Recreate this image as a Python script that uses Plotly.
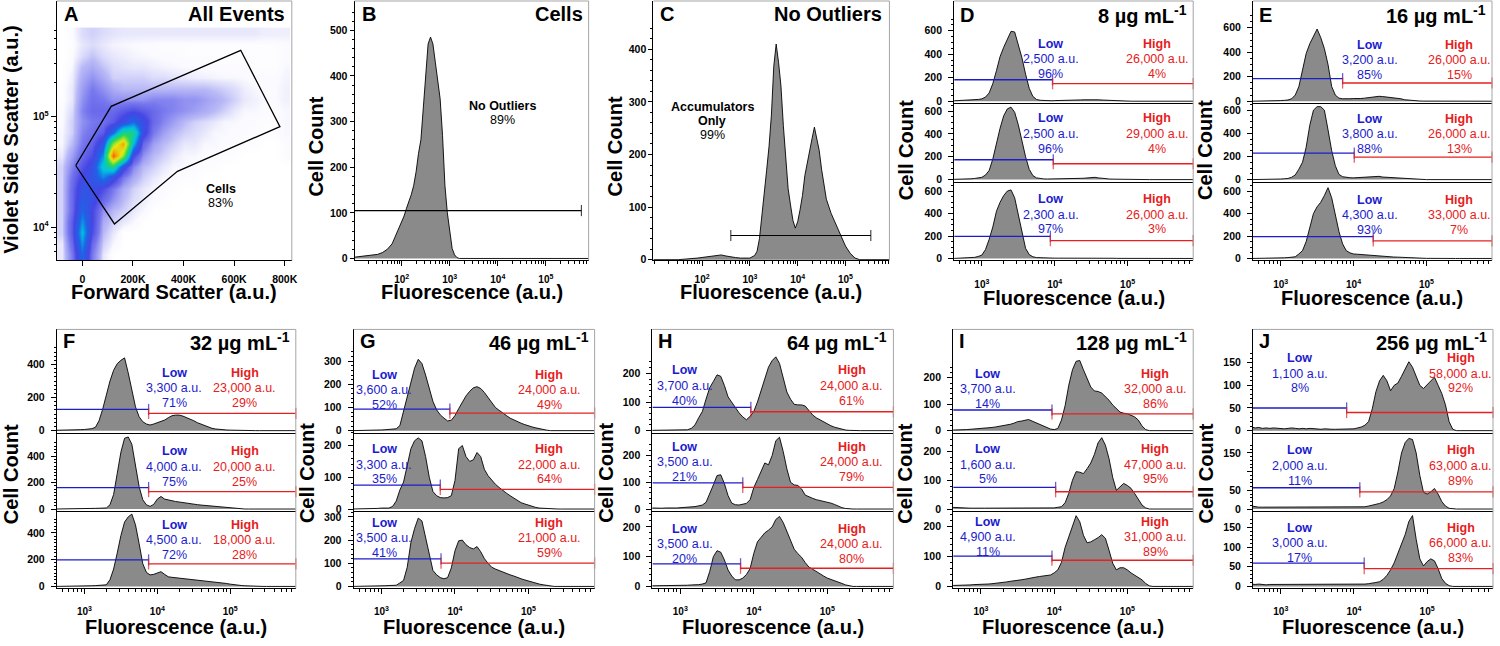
import numpy as np
import plotly.graph_objects as go

# ======================= DATA =======================

# ---- Panel A: event density of the dot plot on a coarse grid ----
FSC_BINS = [-80000, -40000, 0, 40000, 80000, 120000, 160000, 200000, 240000, 280000,
            320000, 360000, 400000, 440000, 480000, 520000, 560000, 600000, 640000,
            680000, 720000, 760000, 800000]
SSC_LOG_BINS = [3.75, 3.85, 3.95, 4.05, 4.15, 4.25, 4.35, 4.45, 4.55, 4.65, 4.75,
                4.85, 4.95, 5.05, 5.15, 5.25, 5.35, 5.45, 5.55, 5.65, 5.75]
DENSITY_A = [
    [1, 8, 25, 8, 1, 0, 0, 0, 0, 0, 0, 0, 0, 0, 0, 0, 0, 0, 0, 0, 0, 0, 0],
    [1, 10, 30, 10, 2, 0.5, 0, 0, 0, 0, 0, 0, 0, 0, 0, 0, 0, 0, 0, 0, 0, 0, 0],
    [2, 12, 35, 14, 3, 1, 0, 0, 0, 0, 0, 0, 0, 0, 0, 0, 0, 0, 0, 0, 0, 0, 0],
    [2, 12, 30, 15, 4, 2, 1, 0.5, 0, 0, 0, 0, 0, 0, 0, 0, 0, 0, 0, 0, 0, 0, 0],
    [2, 10, 25, 15, 6, 3, 2, 1, 0.5, 0, 0, 0, 0, 0, 0, 0, 0, 0, 0, 0, 0, 0, 0],
    [2, 10, 22, 18, 10, 6, 3, 1.5, 0.8, 0.4, 0.2, 0, 0, 0, 0, 0, 0, 0, 0, 0, 0, 0, 0],
    [2, 10, 20, 18, 14, 8, 4, 2, 1, 0.5, 0.3, 0.2, 0, 0, 0, 0, 0, 0, 0, 0, 0, 0, 0],
    [2, 9, 16, 20, 28, 18, 8, 4, 2, 1, 0.5, 0.3, 0.2, 0.2, 0, 0, 0, 0, 0, 0, 0, 0, 0],
    [2, 7, 13, 18, 38, 45, 18, 7, 3, 2, 1, 0.5, 0.5, 0.3, 0.2, 0.2, 0, 0, 0, 0, 0, 0, 0],
    [1, 5, 10, 14, 30, 90, 60, 15, 6, 3, 2, 1, 0.5, 0.5, 0.3, 0.3, 0.2, 0.2, 0, 0, 0, 0, 0.3],
    [0.5, 3, 8, 11, 20, 60, 80, 35, 10, 5, 3, 2, 1, 1, 0.5, 0.5, 0.3, 0.3, 0.2, 0.2, 0, 0, 0.3],
    [0.5, 2, 7, 9, 12, 25, 45, 45, 18, 8, 5, 3, 2, 1.5, 1, 0.5, 0.5, 0.3, 0.3, 0.2, 0.2, 0.2, 0.5],
    [0.3, 2, 6, 8, 9, 12, 18, 25, 18, 10, 7, 5, 3, 2, 1.5, 1, 0.5, 0.5, 0.3, 0.3, 0.2, 0.2, 0.5],
    [0.3, 1.5, 7, 10, 10, 10, 12, 14, 12, 10, 8, 7, 6, 5, 4, 3, 2, 1, 0.5, 0.5, 0.3, 0.3, 0.5],
    [0.2, 1, 6, 9, 8, 6, 6, 6, 6, 7, 7, 7, 6, 6, 5, 4, 3, 2, 1, 0.7, 0.4, 0.4, 0.7],
    [0.2, 1, 5, 8, 6, 4, 3, 3, 3, 3, 3, 3, 3, 3, 3, 2.5, 2, 1.5, 0.8, 0.5, 0.4, 0.4, 0.7],
    [0, 0.8, 4, 6, 4, 2, 2, 2, 2, 1.5, 1.5, 1.2, 1, 0.8, 0.7, 0.6, 0.5, 0.5, 0.4, 0.3, 0.3, 0.3, 0.6],
    [0, 0.5, 3, 4, 2.5, 1.5, 1.2, 1, 1, 0.8, 0.6, 0.5, 0.4, 0.4, 0.3, 0.3, 0.3, 0.3, 0.3, 0.2, 0.2, 0.2, 0.5],
    [0, 0.3, 1.5, 2.5, 1.5, 1, 0.8, 0.6, 0.5, 0.4, 0.3, 0.3, 0.2, 0.2, 0.2, 0.2, 0.2, 0.2, 0.2, 0.2, 0.2, 0.2, 0.3],
    [0, 0.2, 1, 1.5, 1, 0.6, 0.5, 0.4, 0.3, 0.3, 0.2, 0.2, 0.2, 0.2, 0.2, 0.2, 0.2, 0.2, 0.2, 0.2, 0.2, 0.2, 0.3],
    [0, 0.3, 1.5, 2, 1.5, 1.2, 1, 1, 1, 1, 1, 1, 1, 1, 1, 1, 1, 1, 1, 1, 0.8, 0.8, 0.8],
]
CELL_GATE_FSC = [-26000, 114000, 626000, 781000, 376000, 127000, -26000]
CELL_GATE_SSC = [36000, 123000, 394000, 80700, 31900, 10700, 36000]

# ---- Panel B: all cells ----
B_LOG = [1.03, 1.1, 1.2, 1.3, 1.4, 1.5, 1.6, 1.7, 1.8, 1.9,
         2.0, 2.05, 2.1, 2.15, 2.2, 2.25, 2.3, 2.35, 2.4, 2.45,
         2.5, 2.55, 2.6, 2.65, 2.7, 2.75, 2.8, 2.85, 2.9, 2.95,
         3.0, 3.05, 3.1, 3.15, 3.2, 3.5, 4.0, 5.0, 5.89]
B_COUNT = [3, 4, 5, 6, 7, 9, 13, 20, 32, 55,
           80, 93, 110, 125, 140, 160, 190, 230, 260, 330,
           400, 470, 485, 470, 430, 390, 350, 270, 160, 100,
           55, 22, 8, 2, 0, 0, 0, 0, 0]
B_GATE_LOG = [1.02, 5.74]
B_GATE_COUNT = 105

# ---- Panel C: no outliers ----
C_LOG = [0.98, 1.5, 1.9, 2.0, 2.1, 2.2, 2.3, 2.4, 2.5, 2.6,
         2.7, 2.8, 2.9, 3.0, 3.1, 3.15, 3.2, 3.25, 3.3, 3.35,
         3.4, 3.45, 3.5, 3.55, 3.6, 3.65, 3.7, 3.75, 3.8, 3.85,
         3.9, 3.95, 4.0, 4.05, 4.1, 4.15, 4.2, 4.25, 4.3, 4.35,
         4.4, 4.45, 4.5, 4.55, 4.6, 4.7, 4.8, 4.9, 5.0, 5.1,
         5.2, 5.3, 5.4, 5.92]
C_COUNT = [0, 0, 3, 4, 5, 6, 8, 9, 7, 5,
           4, 3, 3, 3, 8, 16, 40, 80, 125, 170,
           215, 275, 368, 410, 375, 330, 255, 190, 135, 104,
           75, 60, 72, 95, 122, 160, 185, 205, 230, 252,
           228, 208, 172, 140, 115, 88, 68, 45, 26, 12,
           3, 0, 0, 0]
C_GATE_LOG = [2.60, 5.53]
C_GATE_COUNT = 46

# ---- Panels D-J: three replicate histograms each (log10 fluorescence bins) ----
LOG_GRID = [2.60, 2.65, 2.70, 2.75, 2.80, 2.85, 2.90, 2.95, 3.00, 3.05,
            3.10, 3.15, 3.20, 3.25, 3.30, 3.35, 3.40, 3.45, 3.50, 3.55,
            3.60, 3.65, 3.70, 3.75, 3.80, 3.85, 3.90, 3.95, 4.00, 4.05,
            4.10, 4.15, 4.20, 4.25, 4.30, 4.35, 4.40, 4.45, 4.50, 4.55,
            4.60, 4.65, 4.70, 4.75, 4.80, 4.85, 4.90, 4.95, 5.00, 5.05,
            5.10, 5.15, 5.20, 5.25, 5.30, 5.35, 5.40, 5.45, 5.50, 5.55,
            5.60, 5.65, 5.70, 5.75, 5.80, 5.85, 5.90]

D1 = [3, 4, 5, 6, 8, 9, 12, 15, 20, 35, 70, 150, 260, 380, 460, 530, 595, 590, 480, 370,
      230, 110, 40, 15, 8, 5, 4, 4, 5, 5, 6, 7, 8, 9, 10, 11, 12, 13, 14, 14,
      12, 10, 8, 6, 4, 3, 2, 1, 1, 0, 0, 0, 0, 0, 0, 0, 0, 0, 0, 0, 0, 0, 0, 0, 0, 0, 0]
D2 = [2, 2, 3, 4, 5, 7, 10, 14, 20, 40, 80, 180, 320, 450, 560, 620, 635, 590, 480, 340,
      200, 90, 35, 15, 8, 6, 5, 5, 5, 5, 6, 7, 8, 9, 10, 11, 12, 15, 18, 20,
      15, 10, 8, 5, 4, 3, 2, 1, 1, 0, 0, 0, 0, 0, 0, 0, 0, 0, 0, 0, 0, 0, 0, 0, 0, 0, 0]
D3 = [0, 1, 2, 3, 4, 6, 10, 18, 30, 80, 170, 280, 420, 500, 560, 600, 610, 540, 380, 220,
      90, 35, 15, 8, 6, 4, 3, 3, 3, 3, 3, 4, 4, 5, 6, 6, 6, 7, 8, 8,
      6, 5, 4, 3, 2, 1, 1, 0, 0, 0, 0, 0, 0, 0, 0, 0, 0, 0, 0, 0, 0, 0, 0, 0, 0, 0, 0]
E1 = [0, 0, 1, 1, 2, 2, 3, 4, 5, 7, 10, 20, 50, 120, 260, 390, 470, 530, 590, 520,
      430, 300, 120, 50, 25, 20, 18, 20, 22, 20, 22, 25, 30, 35, 40, 40, 38, 35, 32, 30,
      25, 20, 12, 8, 5, 3, 2, 1, 1, 0, 0, 0, 0, 0, 0, 0, 0, 0, 0, 0, 0, 0, 0, 0, 0, 0, 0]
E2 = [0, 0, 0, 1, 1, 2, 3, 4, 5, 7, 10, 20, 40, 90, 150, 280, 470, 600, 630, 630,
      600, 430, 250, 120, 45, 25, 18, 16, 15, 16, 18, 19, 20, 22, 25, 28, 22, 20, 18, 15,
      12, 9, 6, 4, 3, 2, 1, 1, 0, 0, 0, 0, 0, 0, 0, 0, 0, 0, 0, 0, 0, 0, 0, 0, 0, 0, 0]
E3 = [0, 0, 0, 1, 1, 1, 2, 3, 4, 6, 8, 12, 15, 40, 70, 150, 280, 400, 460, 500,
      560, 630, 540, 380, 240, 130, 70, 50, 40, 38, 35, 32, 30, 28, 25, 22, 20, 18, 15, 13,
      12, 10, 8, 6, 5, 4, 3, 2, 1, 1, 0, 0, 0, 0, 0, 0, 0, 0, 0, 0, 0, 0, 0, 0, 0, 0, 0]
F1 = [2, 2, 3, 3, 4, 4, 5, 6, 7, 8, 12, 20, 60, 130, 225, 300, 365, 405, 425, 440,
      350, 244, 144, 84, 54, 40, 34, 40, 48, 54, 64, 78, 90, 94, 94, 88, 80, 68, 60, 48,
      40, 28, 20, 14, 10, 7, 5, 4, 3, 2, 1, 0, 0, 0, 0, 0, 0, 0, 0, 0, 0, 0, 0, 0, 0, 0, 0]
F2 = [0, 0, 1, 1, 1, 2, 2, 3, 3, 4, 4, 5, 6, 7, 8, 32, 110, 270, 430, 535,
      545, 490, 330, 170, 70, 32, 20, 35, 75, 95, 75, 68, 62, 57, 53, 48, 45, 40, 37, 33,
      30, 27, 24, 22, 20, 16, 13, 10, 8, 5, 3, 1, 0, 0, 0, 0, 0, 0, 0, 0, 0, 0, 0, 0, 0, 0, 0]
F3 = [0, 0, 1, 1, 1, 2, 2, 3, 3, 4, 5, 6, 7, 8, 12, 50, 130, 250, 380, 480,
      519, 540, 460, 320, 170, 105, 86, 90, 99, 110, 90, 72, 68, 65, 63, 60, 57, 55, 52, 50,
      47, 44, 41, 38, 36, 33, 28, 22, 17, 12, 9, 7, 5, 3, 1, 0, 0, 0, 0, 0, 0, 0, 0, 0, 0, 0, 0]
G1 = [0, 0, 1, 1, 1, 2, 2, 3, 3, 4, 5, 5, 8, 22, 83, 140, 205, 270, 308, 290,
      240, 183, 126, 90, 68, 54, 42, 45, 65, 95, 126, 150, 170, 185, 190, 182, 165, 145, 120, 100,
      88, 75, 65, 54, 46, 39, 32, 26, 20, 16, 12, 8, 4, 2, 0, 0, 0, 0, 0, 0, 0, 0, 0, 0, 0, 0, 0]
G2 = [0, 0, 1, 1, 1, 2, 2, 2, 3, 3, 3, 8, 25, 60, 85, 137, 190, 215, 224, 215,
      165, 100, 55, 42, 36, 35, 36, 42, 90, 190, 200, 165, 150, 155, 178, 165, 125, 105, 90, 78,
      68, 58, 50, 42, 34, 26, 20, 16, 12, 8, 5, 3, 2, 1, 0, 0, 0, 0, 0, 0, 0, 0, 0, 0, 0, 0, 0]
G3 = [0, 0, 1, 1, 1, 2, 2, 3, 3, 3, 4, 4, 5, 15, 26, 83, 190, 250, 295, 283,
      211, 126, 69, 50, 38, 33, 38, 80, 154, 197, 200, 180, 168, 162, 172, 150, 120, 100, 83, 75,
      68, 61, 55, 50, 45, 38, 33, 28, 23, 18, 14, 10, 7, 4, 2, 0, 0, 0, 0, 0, 0, 0, 0, 0, 0, 0, 0]
H1 = [1, 1, 2, 2, 2, 3, 3, 3, 3, 3, 3, 8, 20, 45, 67, 110, 150, 172, 195, 190,
      158, 118, 98, 80, 62, 48, 38, 50, 67, 100, 140, 185, 222, 245, 258, 235, 180, 135, 110, 92,
      90, 90, 86, 72, 55, 45, 38, 30, 22, 17, 12, 8, 5, 2, 1, 0, 0, 0, 0, 0, 0, 0, 0, 0, 0, 0, 0]
H2 = [4, 3, 4, 3, 4, 3, 4, 4, 5, 5, 6, 7, 9, 12, 15, 25, 55, 90, 125, 128,
      95, 50, 22, 16, 15, 17, 21, 35, 80, 110, 144, 172, 165, 200, 255, 268, 215, 150, 100, 90,
      88, 75, 52, 45, 40, 35, 32, 29, 27, 22, 17, 10, 5, 2, 0, 0, 0, 0, 0, 0, 0, 0, 0, 0, 0, 0, 0]
H3 = [2, 2, 3, 2, 3, 3, 3, 3, 3, 4, 4, 5, 5, 6, 8, 12, 50, 100, 120, 115,
      89, 55, 35, 22, 22, 28, 40, 60, 111, 150, 165, 180, 189, 200, 225, 235, 215, 185, 150, 125,
      110, 98, 80, 65, 58, 50, 40, 35, 28, 24, 20, 16, 10, 5, 2, 0, 0, 0, 0, 0, 0, 0, 0, 0, 0, 0, 0]
I1 = [2, 2, 3, 3, 4, 5, 6, 6, 7, 8, 10, 12, 14, 16, 18, 20, 24, 28, 34, 36,
      40, 42, 36, 30, 22, 16, 10, 6, 4, 8, 40, 95, 172, 230, 262, 265, 230, 195, 165, 150,
      148, 142, 130, 115, 97, 82, 70, 66, 64, 58, 52, 40, 18, 4, 0, 0, 0, 0, 0, 0, 0, 0, 0, 0, 0, 0, 0]
I2 = [6, 5, 4, 3, 3, 3, 3, 2, 3, 3, 3, 3, 2, 3, 3, 3, 3, 2, 3, 3,
      3, 3, 3, 3, 3, 3, 3, 3, 4, 6, 8, 22, 55, 100, 130, 128, 123, 140, 160, 190,
      230, 248, 222, 175, 110, 65, 77, 89, 82, 72, 54, 32, 14, 4, 0, 0, 0, 0, 0, 0, 0, 0, 0, 0, 0, 0, 0]
I3 = [3, 3, 4, 4, 5, 5, 6, 6, 7, 8, 8, 9, 10, 12, 14, 15, 17, 18, 20, 22,
      24, 27, 29, 31, 33, 35, 37, 38, 45, 55, 80, 130, 165, 200, 235, 215, 170, 145, 148, 155,
      162, 172, 160, 120, 77, 55, 62, 62, 55, 45, 38, 30, 22, 10, 2, 0, 0, 0, 0, 0, 0, 0, 0, 0, 0, 0, 0]
J1 = [8, 6, 7, 5, 6, 5, 6, 5, 5, 4, 5, 6, 5, 4, 5, 4, 5, 4, 4, 3,
      4, 3, 3, 3, 3, 4, 4, 3, 4, 6, 8, 12, 20, 48, 86, 110, 122, 110, 88, 100,
      105, 120, 135, 152, 140, 120, 100, 93, 101, 110, 118, 100, 82, 57, 20, 3, 0, 0, 0, 0, 0, 0, 0, 0, 0, 0, 0]
J2 = [8, 6, 5, 5, 5, 4, 5, 4, 4, 5, 4, 4, 5, 4, 5, 4, 4, 4, 5, 4,
      4, 5, 4, 4, 4, 4, 4, 4, 5, 5, 6, 6, 8, 10, 12, 15, 19, 25, 35, 55,
      99, 150, 178, 189, 186, 150, 90, 45, 40, 46, 55, 40, 20, 8, 2, 0, 0, 0, 0, 0, 0, 0, 0, 0, 0, 0, 0]
J3 = [6, 5, 6, 5, 4, 5, 5, 6, 5, 5, 6, 5, 5, 6, 5, 5, 6, 5, 5, 6,
      5, 6, 5, 5, 5, 6, 5, 6, 5, 5, 6, 6, 7, 8, 10, 12, 18, 28, 42, 60,
      85, 110, 132, 165, 180, 120, 70, 52, 63, 70, 65, 45, 20, 8, 2, 0, 0, 0, 0, 0, 0, 0, 0, 0, 0, 0, 0]

STACK_HISTS = [D1, D2, D3, E1, E2, E3, F1, F2, F3, G1, G2, G3,
               H1, H2, H3, I1, I2, I3, J1, J2, J3]

# Low / High gate boundary (log10 fluorescence) and gate heights (cell count), per histogram
SPLIT_LOG = [3.97, 3.98, 3.94, 3.85, 4.01, 4.27, 3.88, 3.88, 3.88, 3.93, 3.80, 3.81,
             3.96, 3.85, 3.82, 3.97, 4.02, 3.97, 3.90, 4.08, 4.14]
LOW_GATE_COUNT = [183, 174, 197, 184, 229, 194, 128, 162, 198, 93, 75, 119,
                  81, 98, 76, 78, 75, 101, 50, 57, 59]
HIGH_GATE_COUNT = [149, 139, 159, 149, 194, 156, 104, 132, 168, 76, 62, 101,
                   66, 81, 61, 63, 60, 87, 40, 46, 45]
LOW_MFI = ['2,500', '2,500', '2,300', '3,200', '3,800', '4,300', '3,300', '4,000', '4,500',
           '3,600', '3,300', '3,500', '3,700', '3,500', '3,500', '3,700', '1,600', '4,900',
           '1,100', '2,000', '3,000']
LOW_PCT = ['96%', '96%', '97%', '85%', '88%', '93%', '71%', '75%', '72%', '52%', '35%', '41%',
           '40%', '21%', '20%', '14%', '5%', '11%', '8%', '11%', '17%']
HIGH_MFI = ['26,000', '29,000', '26,000', '26,000', '26,000', '33,000', '23,000', '20,000',
            '18,000', '24,000', '22,000', '21,000', '24,000', '24,000', '24,000', '32,000',
            '47,000', '31,000', '58,000', '63,000', '66,000']
HIGH_PCT = ['4%', '4%', '3%', '15%', '13%', '7%', '29%', '25%', '28%', '49%', '64%', '59%',
            '61%', '79%', '80%', '86%', '95%', '89%', '92%', '89%', '83%']

STACK_LETTERS = ['D', 'E', 'F', 'G', 'H', 'I', 'J']
CONCENTRATIONS = ['8', '16', '32', '46', '64', '128', '256']

for h in STACK_HISTS:
    assert len(h) == len(LOG_GRID)
for row in DENSITY_A:
    assert len(row) == len(FSC_BINS)
assert len(DENSITY_A) == len(SSC_LOG_BINS)
assert len(B_LOG) == len(B_COUNT) and len(C_LOG) == len(C_COUNT)

# ======================= STYLE / GEOMETRY =======================
W, H = 1500, 646
FONT = 'Liberation Sans'
BLUE = 'rgb(28,28,205)'
RED = 'rgb(230,32,32)'
FILL = 'rgb(138,138,138)'
FRAME = 'rgb(165,165,165)'

layout_axes = {}
traces = []
annotations = []
shapes = []
counter = [0]


def add_axes(l, r, t, b, xr, yr, xcfg, ycfg):
    counter[0] += 1
    n = counter[0]
    s = '' if n == 1 else str(n)
    xa = dict(domain=[l / W, r / W], range=xr, anchor='y' + s, showgrid=False,
              zeroline=False, fixedrange=True)
    ya = dict(domain=[1 - b / H, 1 - t / H], range=yr, anchor='x' + s, showgrid=False,
              zeroline=False, fixedrange=True)
    xa.update(xcfg)
    ya.update(ycfg)
    layout_axes['xaxis' + s] = xa
    layout_axes['yaxis' + s] = ya
    return 'x' + s, 'y' + s


def tfont(size):
    return dict(family=FONT, size=size, color='black', weight='bold')


def x_labeled(vals, text, minor=None, standoff=0, size=10):
    d = dict(showline=True, linecolor='black', linewidth=1, ticks='outside', ticklen=5,
             tickwidth=1, tickcolor='black', tickmode='array', tickvals=vals, ticktext=text,
             tickfont=tfont(size), ticklabelstandoff=standoff)
    if minor:
        d['minor'] = dict(tickmode='array', tickvals=minor, ticks='outside', ticklen=3,
                          tickwidth=1, tickcolor='black')
    return d


X_HIDDEN = dict(showline=True, linecolor='black', linewidth=1, ticks='', showticklabels=False)


def y_cfg(vals, minor, standoff=0, text=None, ticklen=4):
    d = dict(showline=True, linecolor='black', linewidth=1, ticks='outside', ticklen=ticklen,
             tickwidth=1, tickcolor='black', tickmode='array', tickvals=vals,
             tickfont=tfont(10.5), ticklabelstandoff=standoff,
             minor=dict(tickmode='array', tickvals=minor, ticks='outside', ticklen=2,
                        tickwidth=1, tickcolor='black'))
    if text is not None:
        d['ticktext'] = text
    return d


def log_minor(lo, hi, majors):
    out = []
    for d in range(0, 7):
        for k in range(1, 10):
            v = d + np.log10(k)
            if lo <= v <= hi and not any(abs(v - m) < 1e-9 for m in majors):
                out.append(float(v))
    return out


def lin_minor(step, hi, majors, mstep):
    out = []
    v = step
    lim = max(majors) + mstep * 0.5
    while v <= min(hi, lim) + 1e-9:
        if not any(abs(v - m) < 1e-9 for m in majors):
            out.append(v)
        v += step
    return out


def annot(text, x, y, size, color='black', bold=False, xanchor='center', angle=0):
    annotations.append(dict(text=text, x=x / W, y=1 - y / H, xref='paper', yref='paper',
                            showarrow=False, xanchor=xanchor, yanchor='middle',
                            textangle=angle,
                            font=dict(family=FONT, size=size, color=color,
                                      weight='bold' if bold else 'normal')))


def frame(l, r, t, b):
    shapes.append(dict(type='line', xref='paper', yref='paper', x0=l / W, x1=r / W,
                       y0=1 - t / H, y1=1 - t / H, line=dict(color=FRAME, width=1)))
    shapes.append(dict(type='line', xref='paper', yref='paper', x0=r / W, x1=r / W,
                       y0=1 - t / H, y1=1 - b / H, line=dict(color=FRAME, width=1)))


def hist(xa, ya, x, y):
    traces.append(go.Scatter(x=x, y=y, mode='lines', line=dict(color='black', width=0.9),
                             fill='tozeroy', fillcolor=FILL, xaxis=xa, yaxis=ya,
                             hoverinfo='skip'))


def gate(xa, ya, x0, x1, y, color, tick_start, tick_end, width=1.3):
    traces.append(go.Scatter(x=[x0, x1], y=[y, y], mode='lines+markers',
                             line=dict(color=color, width=width),
                             marker=dict(symbol='line-ns', size=[8 if tick_start else 0,
                                                                 8 if tick_end else 0],
                                         color=color, line=dict(color=color, width=width)),
                             cliponaxis=False, xaxis=xa, yaxis=ya, hoverinfo='skip'))


def sup_labels(decs):
    return ['10<sup>%d</sup>' % d for d in decs]


TOP_T, TOP_B = 1, 262.5
BOT_T, BOT_B = 332, 593
TITLE_FS = 20
AXIS_FS = 20
TXT_FS = 12.5

# ---------------- Panel A ----------------
l, r = 57, 293
xa, ya = add_axes(l, r, TOP_T, TOP_B, [-101000, 828000], [3.70, 6.04],
                  x_labeled([0, 200000, 400000, 600000, 800000],
                            ['0', '200K', '400K', '600K', '800K'], None, 4, 10.5),
                  y_cfg([4, 5], log_minor(3.70, 5.79, [4, 5]), 0, sup_labels([4, 5]), 5))
A_SCALE = [[0, 'rgb(255,255,255)'], [0.004, 'rgb(250,250,255)'], [0.01, 'rgb(232,232,252)'],
           [0.03, 'rgb(185,185,247)'], [0.08, 'rgb(120,120,238)'], [0.15, 'rgb(70,70,228)'],
           [0.25, 'rgb(30,100,230)'], [0.35, 'rgb(0,195,225)'], [0.5, 'rgb(40,215,90)'],
           [0.68, 'rgb(225,235,20)'], [0.82, 'rgb(250,150,0)'], [1, 'rgb(225,25,25)']]
traces.append(go.Heatmap(x=FSC_BINS, y=SSC_LOG_BINS, z=DENSITY_A, colorscale=A_SCALE,
                         zmin=0, zmax=100, zsmooth='best', showscale=False, xaxis=xa,
                         yaxis=ya, hoverinfo='skip'))
traces.append(go.Scatter(x=CELL_GATE_FSC, y=list(np.log10(CELL_GATE_SSC)), mode='lines',
                         line=dict(color='black', width=1.3), xaxis=xa, yaxis=ya,
                         hoverinfo='skip'))
frame(l, r, TOP_T, TOP_B)
annot('A', l + 5, 14, TITLE_FS, bold=True, xanchor='left')
annot('All Events', r - 5, 14, TITLE_FS, bold=True, xanchor='right')
annot('Cells', 221.7, 190.7, TXT_FS, bold=True)
annot('83%', 221.7, 205, TXT_FS)
annot('Forward Scatter (a.u.)', (l + r) / 2, 294, AXIS_FS, bold=True)
annot('Violet Side Scatter (a.u.)', 11, 140, AXIS_FS, bold=True, angle=-90)

# ---------------- Panel B ----------------
l, r = 356, 591
zero, ppc = 260.5, 0.46
xa, ya = add_axes(l, r, TOP_T, TOP_B, [1.02, 5.89], [-(TOP_B - zero) / ppc, (zero - TOP_T) / ppc],
                  x_labeled([2, 3, 4, 5], sup_labels([2, 3, 4, 5]),
                            log_minor(1.02, 5.89, [2, 3, 4, 5]), 5),
                  y_cfg([0, 100, 200, 300, 400, 500],
                        lin_minor(20, (zero - TOP_T) / ppc, [0, 100, 200, 300, 400, 500], 100), 0))
hist(xa, ya, B_LOG, B_COUNT)
gate(xa, ya, B_GATE_LOG[0], B_GATE_LOG[1], B_GATE_COUNT, 'black', False, True, 1.2)
frame(l, r, TOP_T, TOP_B)
annot('B', l + 5, 14, TITLE_FS, bold=True, xanchor='left')
annot('Cells', r - 4, 14, TITLE_FS, bold=True, xanchor='right')
annot('No Outliers', 505, 106.7, TXT_FS, bold=True)
annot('89%', 505, 121, TXT_FS)
annot('Fluorescence (a.u.)', (l + r) / 2, 294, AXIS_FS, bold=True)
annot('Cell Count', 317, 148, AXIS_FS, bold=True, angle=-90)

# ---------------- Panel C ----------------
l, r = 656, 893
zero, ppc = 261.7, 0.53
xa, ya = add_axes(l, r, TOP_T, TOP_B, [0.98, 5.92], [-(TOP_B - zero) / ppc, (zero - TOP_T) / ppc],
                  x_labeled([2, 3, 4, 5], sup_labels([2, 3, 4, 5]),
                            log_minor(0.98, 5.92, [2, 3, 4, 5]), 5),
                  y_cfg([0, 100, 200, 300, 400],
                        lin_minor(20, (zero - TOP_T) / ppc, [0, 100, 200, 300, 400], 100), 0))
hist(xa, ya, C_LOG, C_COUNT)
gate(xa, ya, C_GATE_LOG[0], C_GATE_LOG[1], C_GATE_COUNT, 'black', True, True, 1.2)
frame(l, r, TOP_T, TOP_B)
annot('C', l + 5, 14, TITLE_FS, bold=True, xanchor='left')
annot('No Outliers', r - 5, 14, TITLE_FS, bold=True, xanchor='right')
annot('Accumulators', 715, 107.7, TXT_FS, bold=True)
annot('Only', 715, 121.7, TXT_FS, bold=True)
annot('99%', 715, 136, TXT_FS)
annot('Fluorescence (a.u.)', (l + r) / 2, 294, AXIS_FS, bold=True)
annot('Cell Count', 617, 148, AXIS_FS, bold=True, angle=-90)

# ---------------- Panels D-J ----------------
BOX_X = {'D': (958, 1198), 'E': (1258, 1498), 'F': (57, 297), 'G': (355, 597),
         'H': (655, 897), 'I': (957, 1198), 'J': (1258, 1499)}
PPC = [0.1183, 0.115, 0.1133, 0.1233, 0.1167, 0.1133, 0.1667, 0.1333, 0.135,
       0.2333, 0.32, 0.2333, 0.2883, 0.27, 0.30, 0.2667, 0.29, 0.3033,
       0.4567, 0.3767, 0.3967]
YTICKS = {'D': ([[0, 200, 400, 600]] * 3, 200, 50),
          'E': ([[0, 200, 400, 600]] * 3, 200, 50),
          'F': ([[0, 200, 400]] * 3, 200, 25),
          'G': ([[0, 100, 200, 300], [0, 100, 200], [0, 100, 200, 300]], 100, 20),
          'H': ([[0, 100, 200]] * 3, 100, 20),
          'I': ([[0, 100, 200]] * 3, 100, 20),
          'J': ([[0, 50, 100, 150], [0, 50, 100, 150], [0, 50, 100, 150]], 50, 10)}
J2_TEXT = ['0', '50', '', '150']
LOW_TEXT_Y = [44.3, 119.3, 200.7, 45, 120, 201.3, 375.7, 455, 529, 377.7, 452.7, 527,
              373.3, 450, 532.7, 376.7, 452.7, 526, 361, 454, 531.7]
LOW_X = {'D': 1055, 'E': 1375, 'F': 175, 'G': 386, 'H': 687.5, 'I': 991.7, 'J': 1305}
HIGH_X = {'D': 1161.7, 'E': 1465, 'F': 245.5, 'G': 551.7, 'H': 855, 'I': 1160, 'J': 1466.7}
CELLCOUNT_XY = {'D': (909, 151), 'E': (1210, 151), 'F': (11, 478), 'G': (309, 477),
                'H': (609, 477), 'I': (909, 477), 'J': (1211, 477)}
XR = [2.62, 5.90]
XMINOR = log_minor(XR[0], XR[1], [3, 4, 5])

for p, letter in enumerate(STACK_LETTERS):
    l, r = BOX_X[letter]
    top_row = p < 2
    t, b = (TOP_T, TOP_B) if top_row else (BOT_T, BOT_B)
    divs = [104, 183] if top_row else [436, 515]
    edges = [t] + divs + [b]
    ticksets, mstep, minstep = YTICKS[letter]
    for k in range(3):
        j = p * 3 + k
        tp, bt = edges[k], edges[k + 1]
        zero = bt - 2
        ppc = PPC[j]
        yr = [-(bt - zero) / ppc, (zero - tp) / ppc]
        majors = ticksets[k]
        ytext = J2_TEXT if (letter == 'J' and k == 1) else None
        ycfg = y_cfg(majors, lin_minor(minstep, yr[1], majors, mstep), 4, ytext, 5)
        if k == 2:
            xcfg = x_labeled([3, 4, 5], sup_labels([3, 4, 5]), XMINOR, 10 if top_row else 9)
        else:
            xcfg = dict(X_HIDDEN)
        xa, ya = add_axes(l, r, tp, bt, XR, yr, xcfg, ycfg)
        hist(xa, ya, LOG_GRID, STACK_HISTS[j])
        gate(xa, ya, XR[0], SPLIT_LOG[j], LOW_GATE_COUNT[j], BLUE, False, True)
        gate(xa, ya, SPLIT_LOG[j], XR[1], HIGH_GATE_COUNT[j], RED, True, True)
        y0 = LOW_TEXT_Y[j]
        annot('Low', LOW_X[letter], y0, TXT_FS, BLUE, bold=True)
        annot(LOW_MFI[j] + ' a.u.', LOW_X[letter], y0 + 15.5, TXT_FS, BLUE)
        annot(LOW_PCT[j], LOW_X[letter], y0 + 30.5, TXT_FS, BLUE)
        annot('High', HIGH_X[letter], y0, TXT_FS, RED, bold=True)
        annot(HIGH_MFI[j] + ' a.u.', HIGH_X[letter], y0 + 15.5, TXT_FS, RED)
        annot(HIGH_PCT[j], HIGH_X[letter], y0 + 30.5, TXT_FS, RED)
    frame(l, r, t, b)
    ty = 15 if top_row else 344
    annot(letter, l + 4, ty, TITLE_FS, bold=True, xanchor='left')
    annot(CONCENTRATIONS[p] + ' µg mL<sup>-1</sup>', r - 4, ty, TITLE_FS, bold=True,
          xanchor='right')
    annot('Fluorescence (a.u.)', (l + r) / 2, 300 if top_row else 632, AXIS_FS, bold=True)
    cx, cy = CELLCOUNT_XY[letter]
    annot('Cell Count', cx, cy, AXIS_FS, bold=True, angle=-90)

fig = go.Figure(data=traces)
fig.update_layout(width=W, height=H, margin=dict(l=0, r=0, t=0, b=0),
                  paper_bgcolor='white', plot_bgcolor='white', showlegend=False,
                  hovermode=False, annotations=annotations, shapes=shapes, **layout_axes)
# remove the browser's default 8px page margin so the figure sits at the window origin
fig.write_html('out.html', config={'displayModeBar': False, 'staticPlot': True},
               post_script="document.body.style.margin='0px';")
